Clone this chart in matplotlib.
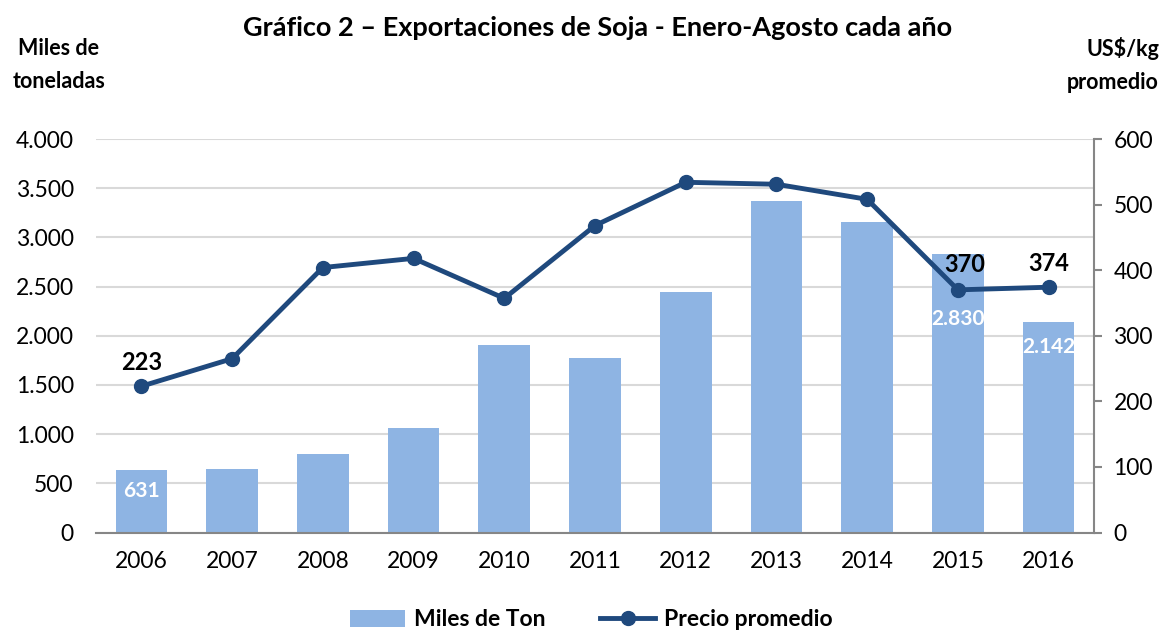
import matplotlib
matplotlib.use("Agg")
import matplotlib.pyplot as plt
from matplotlib.ticker import FuncFormatter, MultipleLocator
from matplotlib.lines import Line2D
from matplotlib.patches import Patch

plt.rcParams['font.family'] = ['Lato', 'DejaVu Sans']

years = ["2006", "2007", "2008", "2009", "2010", "2011", "2012", "2013", "2014", "2015", "2016"]
miles_ton = [631, 648, 797, 1062, 1905, 1776, 2445, 3365, 3160, 2830, 2142]
precio = [223, 265, 404, 418, 357, 468, 534, 531, 508, 370, 374]

bar_color = "#8EB4E3"
line_color = "#1F497D"

fig = plt.figure(figsize=(11.64, 6.33), dpi=100)
ax = fig.add_axes([96/1164, (633-532.5)/633, (1094-96)/1164, (532.5-139)/633])
x = list(range(len(years)))
ax.bar(x, miles_ton, width=0.57, color=bar_color, zorder=2)
ax.set_ylim(0, 4000)
ax.set_xlim(-0.5, len(years) - 0.5)
ax.yaxis.set_major_locator(MultipleLocator(500))
fmt = FuncFormatter(lambda v, p: f"{int(v):,}".replace(",", "."))
ax.yaxis.set_major_formatter(fmt)
ax.grid(axis='y', color='#D9D9D9', linewidth=1.5, zorder=0)
ax.set_axisbelow(True)
for s in ['top', 'right', 'left']:
    ax.spines[s].set_visible(False)
ax.spines['bottom'].set_color('#868686')
ax.spines['bottom'].set_linewidth(1.5)
ax.set_xticks(x)
ax.set_xticklabels(years)
ax.tick_params(axis='x', length=0, labelsize=16.5, pad=13)
ax.tick_params(axis='y', length=0, labelsize=16.5, pad=16)

ax2 = ax.twinx()
ax2.plot(x, precio, color=line_color, linewidth=3.5, marker='o', markersize=10, zorder=5)
ax2.set_ylim(0, 600)
ax2.yaxis.set_major_locator(MultipleLocator(100))
for s in ['top', 'left', 'bottom']:
    ax2.spines[s].set_visible(False)
ax2.spines['right'].set_color('#868686')
ax2.spines['right'].set_linewidth(1.5)
ax2.tick_params(axis='y', direction='out', length=6, color='#868686', width=1.5, labelsize=16.5, pad=8)

# data labels
ax2.annotate(f"{precio[0]}", (x[0], precio[0]), xytext=(0, 9), textcoords='offset points',
             ha='center', va='bottom', fontsize=17, fontweight='bold', color='black')
ax2.annotate(f"{precio[9]}", (x[9], precio[9]), xytext=(5, 10), textcoords='offset points',
             ha='center', va='bottom', fontsize=17, fontweight='bold', color='black')
ax2.annotate(f"{precio[10]}", (x[10], precio[10]), xytext=(0, 9), textcoords='offset points',
             ha='center', va='bottom', fontsize=17, fontweight='bold', color='black')

def dotfmt(v):
    return f"{v:,}".replace(",", ".")

for i, dy in [(0, -15), (9, -47), (10, -18)]:
    ax.annotate(dotfmt(miles_ton[i]), (x[i], miles_ton[i]), xytext=(0, dy), textcoords='offset points',
                ha='center', va='center', fontsize=15, fontweight='bold', color='white', zorder=6)

fig.text(598/1164, 1 - 28/633, "Gráfico 2 – Exportaciones de Soja - Enero-Agosto cada año",
         ha='center', va='center', fontsize=19.5, fontweight='bold')
fig.text(59/1164, 1 - 65/633, "Miles de\ntoneladas", ha='center', va='center',
         fontsize=15.5, fontweight='bold', linespacing=1.75)
fig.text(1159/1164, 1 - 65/633, "US$/kg\npromedio", ha='right', va='center',
         fontsize=15.5, fontweight='bold', linespacing=1.75)

handles = [Patch(facecolor=bar_color, edgecolor='none'),
           Line2D([0], [0], color=line_color, linewidth=3.5, marker='o', markersize=10)]
fig.legend(handles, ["Miles de Ton", "Precio promedio"], loc='center', bbox_to_anchor=(0.508, 1 - 620/633),
           ncol=2, frameon=False, prop={'size': 16.5, 'weight': 'bold'}, handlelength=2.4,
           columnspacing=2.4, handletextpad=0.4)

fig.savefig("out.png", dpi=100)
